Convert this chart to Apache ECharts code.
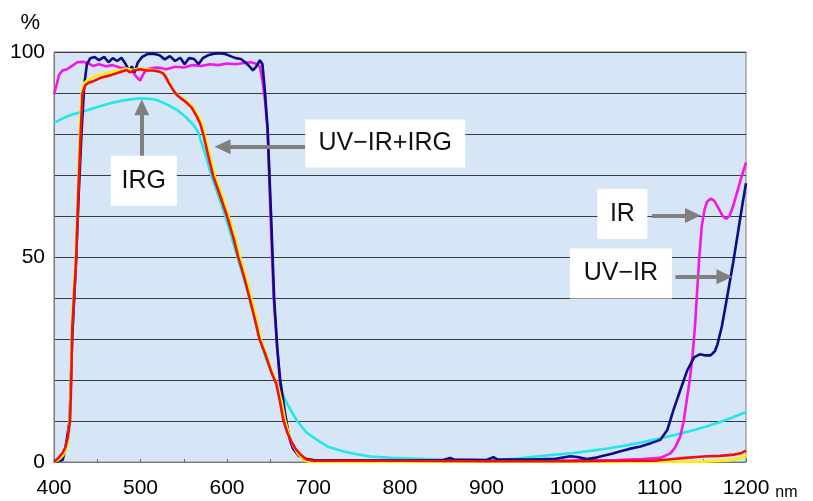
<!DOCTYPE html>
<html>
<head>
<meta charset="UTF-8">
<title></title>
<script type="text/javascript" src="https://cdn.jsdelivr.net/npm/echarts@6/dist/echarts.min.js"></script>
<style type="text/css">
body {
	margin: 0;
	background: #fff;
}
#main {
	width: 813px;
	height: 501px;
}
</style>
</head>
<body>
	<div id="main"></div>
	<script>
	// 波长刻度 / 纵轴刻度
	var xTicks = [400, 500, 600, 700, 800, 900, 1000, 1100, 1200];
	var yTicks = [0, 50, 100];

	// UV-IR (深蓝)
	var uvIr = [[400,0],[410,0.5],[413,3],[418,10],[421,30],[425.5,49],[428.5,65],[432,81],[435,92],[438,97],[442,98.5],
		[447,98.8],[452,98],[458,98.8],[463,97.5],[468,98.5],[473,97.8],[478,98.6],[483,97],[487,95.3],[490,96.5],[493,95],
		[497,97.5],[502,98.8],[508,99.5],[515,99.6],[522,99.2],[528,98.2],[534,99],[540,97.8],[546,98.6],[551,97],[556,98.5],
		[562,98.3],[567,97],[572,98.5],[578,99.2],[585,99.6],[592,99.7],[598,99.5],[604,99],[610,98.5],[616,98.3],[621,97.5],
		[626,96.5],[630,95.5],[634,96.5],[638,98],[641,97],[644,90],[647,81],[651,60],[654.5,40],[658,28],[661.5,20],
		[664,16.5],[667,12],[671,7],[676,3.5],[683,1.5],[690,0.8],[700,0.5],[750,0.4],[800,0.4],[850,0.5],[858,1],[862,0.6],
		[900,0.5],[908,1.2],[913,0.6],[950,0.6],[980,0.8],[997,1.4],[1005,1.2],[1016,0.7],[1025,1],[1035,1.5],[1045,2],
		[1055,2.6],[1065,3.2],[1078,3.8],[1090,4.6],[1101,5.4],[1109,7.8],[1116,12.6],[1124,17.5],[1132,22.3],[1140,25.5],
		[1147,26.3],[1153,26],[1159,26],[1164,27],[1167,28.7],[1172,33],[1178,40],[1186,49.7],[1192,57.7],[1196,63],[1200,68]];

	// IR (品红)
	var ir = [[400,89.7],[403,92],[406,94.5],[410,95.5],[415,95.8],[420,96.5],[427,97.5],[433,97.6],[438,97.4],[445,96.6],
		[452,97],[460,96.5],[468,96.8],[476,96.2],[484,96],[490,95.5],[495,94],[499.5,93],[503,94.5],[507,95.8],[511,96],
		[520,96.2],[530,95.8],[540,96.4],[550,96.2],[560,96.8],[570,96.6],[580,97],[590,96.8],[600,97.2],[610,97],[620,97.3],
		[627,97.5],[633,97.2],[638,96.5],[641,93],[644,88],[647,81],[650,62],[654,40],[658,28],[661,20],[663.5,16],[666,12],
		[669.6,8.6],[673,5],[677,3],[683,1.5],[690,0.8],[700,0.4],[800,0.3],[900,0.3],[1000,0.4],[1050,0.5],[1080,0.7],
		[1101,1],[1112.6,2.1],[1118,3.5],[1124,6.2],[1128,10],[1132,15.8],[1135,20],[1138,25.5],[1141,33],[1143.5,41.6],
		[1146,50],[1149,57.7],[1152,61.5],[1155,63.5],[1159,64.2],[1163,63.8],[1168,62],[1173,60],[1177,59.3],[1181,60],
		[1186,63],[1190,66],[1194,69],[1197,71],[1200,73]];

	// UV-IR+IRG (红)
	var uvIrIrg = [[400,0],[405,1],[410,2.2],[413,3.5],[416,6],[418.5,10],[420,20],[421,32],[423,40],[425.5,49],[428,65],
		[431,81],[433,90],[436,91.8],[440,92.5],[447,93],[455,93.8],[465,94.3],[475,95],[484,95.6],[488,95],[492,95.5],
		[500,95.8],[507,95.5],[515,95.5],[522,95.2],[526,94.8],[529,94],[532,92.7],[537,91],[542,89.5],[548,88.5],[553.5,87.6],
		[559,86.5],[565,84.3],[569,82.5],[572.5,80],[578,75],[584,69.8],[592,65],[600,60],[607,55],[613,50],[620,45],[626,40],
		[632,35],[637.5,30],[643,27],[648,24],[652,21.5],[657,19],[661,15],[665,10.3],[670,7],[675,4.8],[679,3.3],[685,1.8],
		[692,0.6],[700,0.3],[800,0.3],[900,0.2],[1000,0.2],[1060,0.3],[1093,0.3],[1110,0.6],[1130,1],[1155,1.4],[1170,1.5],
		[1186,1.8],[1195,2.2],[1200,2.8]];

	// 黄线 (大部分被红线遮住)
	var yellow = [[400,0],[405,0.5],[410,1.5],[413,2.5],[416,5],[418,10],[419.5,20],[420.5,32],[422.5,40],[425,49],
		[427.5,65],[430,81],[432,90],[435,92.5],[440,93.3],[447,94],[455,94.5],[465,95],[475,95.5],[484,96],[490,95.6],
		[500,96],[507,95.8],[515,95.6],[522,95.3],[527,94.8],[531,93.5],[535,91.8],[540,90],[546,89],[553,88],[559,87],
		[565,85],[570,83],[574,80],[580,75],[586,69.8],[594,65],[602,60],[609,55],[615,50],[622,45],[628,40],[634,35],[639,30],
		[644,27],[649,24],[653,21.5],[658,19],[663,15],[667,10.3],[672,6.5],[677,3.8],[682,2],[688,0.6],[695,0],[800,0],
		[900,0],[1000,0],[1100,0],[1150,0.1],[1180,0.4],[1195,1],[1200,1.8]];

	// IRG (青)
	var irg = [[400,82.7],[410,83.8],[420,84.7],[434,85.5],[450,86.6],[465,87.5],[480,88.2],[499.5,88.7],[510,88.6],
		[519,88.3],[530,87.3],[542,85.9],[552,84.2],[561,82.3],[567,80.3],[575,75],[582,69.8],[590,65],[598,60],[605,55],
		[612,50],[619,45],[626,40],[632,35],[638,30],[644,26],[650,22.5],[655.7,20],[662,17.5],[670,14],[681,10],[692,7.2],
		[704,5.4],[717,3.7],[734,2.6],[750,1.9],[765.6,1.35],[790,1],[820,0.8],[850,0.6],[880,0.5],[910,0.4],[939,0.9],
		[960,1.4],[980,1.8],[1000,2.2],[1016,2.6],[1040,3.3],[1060,4],[1080,4.8],[1101,5.8],[1120,6.7],[1140,7.8],
		[1155,8.7],[1171,9.8],[1185,10.9],[1200,12.2]];

	// 标注: 文字框中心 [波长, %] 及箭头起止
	var labelBoxes = [
		{text: 'IRG', at: [503.8, 68.6], size: [66, 50]},
		{text: 'UV\u2212IR+IRG', at: [782.9, 77.7], size: [160, 48]},
		{text: 'IR', at: [1057.1, 60.5], size: [50, 50]},
		{text: 'UV\u2212IR', at: [1055.4, 46.0], size: [102, 50]}
	];
	var arrows = [
		[[501.5, 74.6], [501.5, 86.5]],
		[[690.4, 76.9], [594.9, 76.9]],
		[[1091.5, 60.1], [1138.7, 60.1]],
		[[1118.4, 45.2], [1175.1, 45.2]]
	];

	var font = 'Liberation Sans, Arial, sans-serif';

	function curve(name, data, color){
		return {
			name: name,
			type: 'line',
			data: data,
			showSymbol: false,
			smooth: false,
			silent: true,
			lineStyle: {color: color, width: 2.6},
			itemStyle: {color: color}
		};
	}

	var chart = echarts.init(document.getElementById('main'));
	var option = {
		animation: false,
		grid: {
			left: 54, right: 67, top: 52, bottom: 35,
			show: true,
			backgroundColor: '#d6e6f6',
			borderColor: '#7a7a7a',
			borderWidth: 1
		},
		xAxis: {
			type: 'value',
			min: 400, max: 1200, interval: 50,
			name: 'nm',
			nameLocation: 'end',
			nameGap: 12,
			nameTextStyle: {color: '#000', fontSize: 16, fontFamily: font, verticalAlign: 'top', padding: [23, 0, 0, 0]},
			axisLine: {show: true, lineStyle: {color: '#7a7a7a'}},
			axisTick: {show: true, inside: true, length: 3, lineStyle: {color: '#666'}},
			splitLine: {show: false},
			axisLabel: {
				color: '#000', fontSize: 21, fontFamily: font, margin: 16,
				formatter: function(v){ return xTicks.indexOf(v) >= 0 ? String(v) : ''; }
			}
		},
		yAxis: {
			type: 'value',
			min: 0, max: 100, interval: 10,
			name: '%',
			nameLocation: 'end',
			nameGap: 18,
			nameTextStyle: {color: '#000', fontSize: 22, fontFamily: font, align: 'right', padding: [0, 14, 0, 0]},
			axisLine: {show: true, lineStyle: {color: '#7a7a7a'}},
			axisTick: {show: false},
			splitLine: {show: true, lineStyle: {color: '#3a3a3a', width: 1}},
			axisLabel: {
				color: '#000', fontSize: 21, fontFamily: font, margin: 9,
				formatter: function(v){ return yTicks.indexOf(v) >= 0 ? String(v) : ''; }
			}
		},
		series: [
			curve('IRG', irg, '#22e6ea'),
			curve('IR', ir, '#f018e8'),
			curve('UV-IR', uvIr, '#0c0c84'),
			curve('yellow', yellow, '#ffee00'),
			curve('UV-IR+IRG', uvIrIrg, '#ee1010'),
			{
				name: 'notes',
				type: 'line',
				data: [],
				z: 5,
				silent: true,
				markLine: {
					silent: true,
					animation: false,
					symbol: ['none', 'triangle'],
					symbolSize: [15, 16],
					label: {show: false},
					lineStyle: {color: '#808080', width: 4, type: 'solid'},
					emphasis: {disabled: true},
					data: arrows.map(function(a){
						return [{coord: a[0]}, {coord: a[1]}];
					})
				},
				markPoint: {
					silent: true,
					animation: false,
					data: labelBoxes.map(function(b){
						return {
							coord: b.at,
							symbol: 'rect',
							symbolSize: b.size,
							itemStyle: {color: '#ffffff'},
							label: {
								show: true, position: 'inside', formatter: b.text,
								color: '#111', fontSize: 25, fontFamily: font
							}
						};
					})
				}
			}
		]
	};
	chart.setOption(option);
	</script>
</body>
</html>
